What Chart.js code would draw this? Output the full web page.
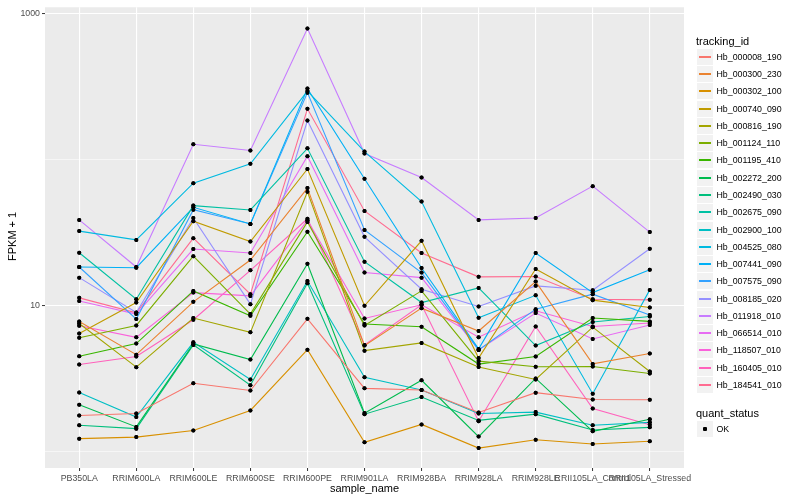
<!DOCTYPE html>
<html><head><meta charset="utf-8">
<script src="https://cdn.jsdelivr.net/npm/chart.js@4.4.0/dist/chart.umd.min.js"></script>
<style>
body{margin:0;background:#fff;}
#wrap{position:relative;width:800px;height:500px;font-family:"Liberation Sans",Arial,Helvetica,sans-serif;overflow:hidden;}
canvas{position:absolute;left:0;top:0;}
.t{position:absolute;color:#000;white-space:nowrap;line-height:1;font-weight:normal;}
.key{position:absolute;background:#F2F2F2;}
</style></head><body>
<div id="wrap"><canvas id="c" width="800" height="500"></canvas></div>
<script>
const categories = ["PB350LA","RRIM600LA","RRIM600LE","RRIM600SE","RRIM600PE","RRIM901LA","RRIM928BA","RRIM928LA","RRIM928LE","RRII105LA_Control","RRII105LA_Stressed"];
const trackingIds = ["Hb_000008_190","Hb_000300_230","Hb_000302_100","Hb_000740_090","Hb_000816_190","Hb_001124_110","Hb_001195_410","Hb_002272_200","Hb_002490_030","Hb_002675_090","Hb_002900_100","Hb_004525_080","Hb_007441_090","Hb_007575_090","Hb_008185_020","Hb_011918_010","Hb_066514_010","Hb_118507_010","Hb_160405_010","Hb_184541_010"];
const seriesColors = ["#F8766D","#EA8331","#D89000","#C09B00","#A3A500","#7CAE00","#39B600","#00BB4E","#00BF7D","#00C1A3","#00BFC4","#00BAE0","#00B0F6","#35A2FF","#9590FF","#C77CFF","#E76BF3","#FA62DB","#FF62BC","#FF6C91"];

const hb_000008_190 = [1.77, 1.83, 2.95, 2.63, 8.15, 2.72, 2.65, 1.86, 2.54, 2.28, 2.27];
const hb_000300_230 = [7.82, 4.63, 10.65, 20.6, 64.1, 5.34, 9.64, 6.72, 14.65, 4.0, 4.71];
const hb_000302_100 = [1.23, 1.26, 1.40, 1.92, 5.01, 1.16, 1.54, 1.06, 1.21, 1.13, 1.18];
const hb_000740_090 = [6.47, 10.53, 38.0, 27.6, 86.6, 10.0, 27.9, 4.39, 17.9, 10.94, 9.74];
const hb_000816_190 = [7.57, 3.80, 8.25, 6.58, 60.4, 4.93, 5.57, 3.81, 3.13, 7.14, 3.55];
const hb_001124_110 = [6.05, 7.34, 21.9, 8.78, 37.6, 7.34, 12.66, 4.18, 3.82, 3.84, 3.44];
const hb_001195_410 = [4.51, 5.51, 12.66, 8.55, 32.2, 7.50, 7.19, 3.99, 4.49, 8.25, 7.82];
const hb_002272_200 = [2.10, 1.48, 5.48, 4.28, 19.4, 1.84, 3.09, 1.27, 3.18, 1.38, 1.67];
const hb_002490_030 = [1.52, 1.44, 5.40, 2.86, 14.3, 1.81, 2.37, 1.64, 1.81, 1.41, 1.47];
const hb_002675_090 = [23.1, 11.1, 48.6, 45.4, 120, 20.05, 10.53, 13.27, 5.34, 7.74, 8.45];
const hb_002900_100 = [2.55, 1.73, 5.62, 3.13, 14.8, 3.24, 2.65, 1.83, 1.87, 1.52, 1.59];
const hb_004525_080 = [32.5, 28.3, 69.3, 94.0, 296, 114, 51.8, 8.28, 11.8, 2.50, 12.86];
const hb_007441_090 = [18.45, 18.25, 47.3, 36.4, 308, 74.3, 18.16, 5.07, 23.0, 12.32, 17.7];
const hb_007575_090 = [18.45, 8.11, 45.6, 36.4, 289, 33.1, 16.9, 4.99, 9.49, 12.02, 8.64];
const hb_008185_020 = [15.6, 9.0, 40.0, 10.27, 186, 29.7, 13.0, 9.89, 13.7, 12.8, 24.6];
const hb_011918_010 = [38.8, 18.45, 128, 116, 795, 110.5, 75.8, 38.8, 40.0, 66.1, 32.0];
const hb_066514_010 = [10.8, 8.78, 24.5, 23.0, 106, 16.9, 15.6, 4.99, 8.92, 5.93, 7.39];
const hb_118507_010 = [7.30, 6.08, 12.32, 11.7, 38.6, 8.19, 10.16, 6.10, 9.25, 7.22, 7.62];
const hb_160405_010 = [3.96, 4.49, 8.03, 17.5, 39.5, 5.40, 10.16, 1.62, 7.22, 1.98, 1.53];
const hb_184541_010 = [11.34, 8.96, 29.1, 12.02, 224, 44.7, 23.0, 15.8, 15.9, 11.1, 10.99];

const seriesValues = [hb_000008_190, hb_000300_230, hb_000302_100, hb_000740_090, hb_000816_190, hb_001124_110, hb_001195_410, hb_002272_200, hb_002490_030, hb_002675_090, hb_002900_100, hb_004525_080, hb_007441_090, hb_007575_090, hb_008185_020, hb_011918_010, hb_066514_010, hb_118507_010, hb_160405_010, hb_184541_010];

const yTickValues = [1, 10, 100, 1000];
const yTickLabels = ["", "10", "", "1000"];
const yMajor = [10, 1000];
const statusLabels = ["OK"];

const FONT = '"Liberation Sans", Arial, Helvetica, sans-serif';

const panelBg = {
  id: 'panelBg',
  beforeDraw(chart) {
    const { ctx, chartArea: a } = chart;
    ctx.save();
    ctx.fillStyle = '#FFFFFF';
    ctx.fillRect(0, 0, chart.width, chart.height);
    ctx.fillStyle = '#EBEBEB';
    ctx.fillRect(a.left, a.top, a.right - a.left, a.bottom - a.top);
    ctx.restore();
  }
};
const pointsOnTop = {
  id: 'pointsOnTop',
  afterDatasetsDraw(chart) {
    const ctx = chart.ctx;
    chart.getSortedVisibleDatasetMetas().forEach(m => {
      m.data.forEach(p => p.draw(ctx, chart.chartArea));
    });
  }
};

const datasets = seriesValues.map((vals, i) => ({
  label: trackingIds[i],
  data: vals.map((v, j) => ({ x: j, y: v })),
  borderColor: seriesColors[i],
  backgroundColor: seriesColors[i],
  borderWidth: 1.1,
  tension: 0,
  fill: false,
  pointRadius: 2,
  pointHoverRadius: 2,
  pointBackgroundColor: '#000000',
  pointBorderColor: '#000000',
  pointBorderWidth: 0
}));

new Chart(document.getElementById('c'), {
  type: 'line',
  data: { datasets },
  plugins: [panelBg, pointsOnTop],
  options: {
    responsive: false,
    animation: false,
    devicePixelRatio: 1,
    layout: { padding: { left: 0, top: 5, right: 116, bottom: 0 } },
    plugins: { legend: { display: false }, tooltip: { enabled: false } },
    scales: {
      x: {
        type: 'linear',
        min: -0.6,
        max: categories.length - 1 + 0.6,
        afterBuildTicks: s => { s.ticks = categories.map((_, i) => ({ value: i })); },
        afterFit: s => { s.height = 32; },
        ticks: {
          autoSkip: false, maxRotation: 0, minRotation: 0, padding: 2,
          color: '#4D4D4D', font: { family: FONT, size: 8.8 },
          callback: (v, i) => categories[i]
        },
        grid: { color: '#FFFFFF', lineWidth: 1.1, tickLength: 3, tickColor: '#333333', tickWidth: 1 },
        border: { display: false }
      },
      y: {
        type: 'logarithmic',
        min: 0.774,
        max: 1111,
        afterBuildTicks: s => { s.ticks = yTickValues.map(v => ({ value: v })); },
        afterFit: s => { s.width = 45; },
        ticks: {
          padding: 2, color: '#4D4D4D', font: { family: FONT, size: 8.8 },
          callback: (v, i) => yTickLabels[i]
        },
        grid: {
          color: '#FFFFFF',
          lineWidth: c => (c.tick && yMajor.includes(c.tick.value)) ? 1.1 : 0.55,
          tickLength: 3,
          tickWidth: 1,
          tickColor: c => (c.tick && yMajor.includes(c.tick.value)) ? '#333333' : 'rgba(0,0,0,0)'
        },
        border: { display: false }
      }
    }
  }
});

// Axis titles and legend as real text
const wrap = document.getElementById('wrap');
function addText(txt, left, top, size, extra) {
  const d = document.createElement('div');
  d.className = 't';
  d.textContent = txt;
  d.style.left = left + 'px';
  d.style.top = top + 'px';
  d.style.fontSize = size + 'px';
  if (extra) Object.assign(d.style, extra);
  wrap.appendChild(d);
  return d;
}
addText('sample_name', 364.5, 488, 11, { transform: 'translate(-50%,-50%)' });
// y title: rotated box placed so its centre lands at (12, 236.5)
const yt = addText('FPKM + 1', 0, 0, 11, { transformOrigin: '0 0' });
const w = yt.offsetWidth, h = yt.offsetHeight;
yt.style.left = Math.round(12 - h / 2) + 'px';
yt.style.top = Math.round(236.5 + w / 2) + 'px';
yt.style.transform = 'rotate(-90deg)';

addText('tracking_id', 696, 41, 11, { transform: 'translateY(-50%)' });
trackingIds.forEach((id, i) => {
  const cy = Math.round(56.7 + 17.28 * i);
  const k = document.createElement('div');
  k.className = 'key';
  Object.assign(k.style, { left: '697px', top: (cy - 8) + 'px', width: '16px', height: '16px' });
  const ln = document.createElement('div');
  Object.assign(ln.style, { position: 'absolute', left: '2px', width: '12px', top: '7px', height: '1.5px', background: seriesColors[i] });
  k.appendChild(ln);
  wrap.appendChild(k);
  addText(id, 716.5, cy, 8.8, { transform: 'translateY(-50%)' });
});
addText('quant_status', 696, 412.7, 11, { transform: 'translateY(-50%)' });
statusLabels.forEach((s, i) => {
  const cy = Math.round(429.3 + 17.28 * i);
  const k = document.createElement('div');
  k.className = 'key';
  Object.assign(k.style, { left: '697px', top: (cy - 8) + 'px', width: '16px', height: '16px' });
  const dot = document.createElement('div');
  Object.assign(dot.style, { position: 'absolute', left: '6px', top: '6px', width: '4px', height: '4px', background: '#000', borderRadius: '1px' });
  k.appendChild(dot);
  wrap.appendChild(k);
  addText(s, 716.5, cy, 8.8, { transform: 'translateY(-50%)' });
});
</script>
</body></html>
